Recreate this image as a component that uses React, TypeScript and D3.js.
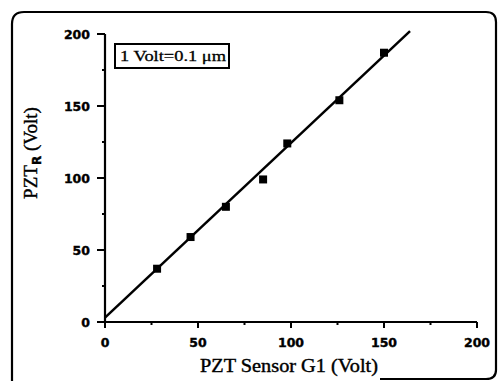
import React, { useRef, useEffect } from 'react';
import * as d3 from 'd3';

// measured points (PZT sensor G1 vs PZT_R), volts
const sensorG1 = [28, 46, 65, 85, 98, 126, 150];
const pztR = [37, 59, 80, 99, 124, 154, 187];

// linear fit line end points
const fitX = [0, 164];
const fitY = [3, 202];

const majorTicks = [0, 50, 100, 150, 200];
const minorTicks = [25, 75, 125, 175];

const W = 498;
const H = 381;

const App = () => {
  const svgRef = useRef<SVGSVGElement>(null);

  useEffect(() => {
    const svg = d3.select(svgRef.current);
    svg.selectAll('*').remove();

    const x = d3.scaleLinear().domain([0, 200]).range([105, 477]);
    const y = d3.scaleLinear().domain([0, 200]).range([322, 34]);

    // outer frame (scanned figure border)
    svg.append('path')
      .attr('d', 'M12,381 L12,24 Q12,12 24,12 L486,12 Q496,12 496,22 L496,370 Q496,379 486,379 L380,379')
      .attr('fill', 'none')
      .attr('stroke', '#000')
      .attr('stroke-width', 2.2);

    // axes lines
    svg.append('line')
      .attr('x1', x(0)).attr('x2', x(200))
      .attr('y1', y(0)).attr('y2', y(0))
      .attr('stroke', '#000').attr('stroke-width', 2.2);
    svg.append('line')
      .attr('x1', x(0)).attr('x2', x(0))
      .attr('y1', y(0)).attr('y2', y(200))
      .attr('stroke', '#000').attr('stroke-width', 2.2);

    // x ticks
    svg.selectAll('.xmaj').data(majorTicks).enter().append('line')
      .attr('x1', d => x(d)).attr('x2', d => x(d))
      .attr('y1', y(0)).attr('y2', y(0) + 6)
      .attr('stroke', '#000').attr('stroke-width', 2);
    svg.selectAll('.xmin').data(minorTicks).enter().append('line')
      .attr('x1', d => x(d)).attr('x2', d => x(d))
      .attr('y1', y(0)).attr('y2', y(0) + 3)
      .attr('stroke', '#000').attr('stroke-width', 2);

    // y ticks
    svg.selectAll('.ymaj').data(majorTicks).enter().append('line')
      .attr('x1', x(0) - 8).attr('x2', x(0))
      .attr('y1', d => y(d)).attr('y2', d => y(d))
      .attr('stroke', '#000').attr('stroke-width', 2);
    svg.selectAll('.ymin').data(minorTicks).enter().append('line')
      .attr('x1', x(0) - 3).attr('x2', x(0))
      .attr('y1', d => y(d)).attr('y2', d => y(d))
      .attr('stroke', '#000').attr('stroke-width', 2);

    // tick labels
    svg.selectAll('.xlab').data(majorTicks).enter().append('text')
      .attr('x', d => x(d))
      .attr('y', 347)
      .attr('text-anchor', 'middle')
      .style('font-family', 'DejaVu Sans')
      .style('font-weight', 'bold')
      .style('font-size', '12.5px')
      .style('stroke', '#000')
      .style('stroke-width', 0.4)
      .text(d => d);
    svg.selectAll('.ylab').data(majorTicks).enter().append('text')
      .attr('x', 90)
      .attr('y', d => y(d) + 4.5)
      .attr('text-anchor', 'end')
      .style('font-family', 'DejaVu Sans')
      .style('font-weight', 'bold')
      .style('font-size', '12.5px')
      .style('stroke', '#000')
      .style('stroke-width', 0.4)
      .text(d => d);

    // axis titles
    svg.append('text')
      .attr('x', 289)
      .attr('y', 372)
      .attr('text-anchor', 'middle')
      .attr('textLength', 178)
      .attr('lengthAdjust', 'spacingAndGlyphs')
      .style('font-family', 'Liberation Serif')
      .style('font-size', '19px')
      .style('stroke', '#000')
      .style('stroke-width', 0.4)
      .text('PZT Sensor G1 (Volt)');

    const yt = svg.append('text')
      .attr('transform', 'translate(37,153) rotate(-90)')
      .attr('text-anchor', 'middle')
      .style('font-family', 'Liberation Serif')
      .style('font-size', '19px')
      .style('stroke', '#000')
      .style('stroke-width', 0.4);
    yt.append('tspan').text('PZT');
    yt.append('tspan')
      .attr('dy', 4)
      .style('font-size', '12px')
      .style('font-family', 'DejaVu Sans')
      .style('font-weight', 'bold')
      .text('R');
    yt.append('tspan').attr('dy', -4).text(' (Volt)');

    // annotation box
    svg.append('rect')
      .attr('x', 115).attr('y', 44)
      .attr('width', 114).attr('height', 24)
      .attr('fill', 'none')
      .attr('stroke', '#000')
      .attr('stroke-width', 2);
    svg.append('text')
      .attr('x', 173).attr('y', 61)
      .attr('text-anchor', 'middle')
      .attr('textLength', 106)
      .attr('lengthAdjust', 'spacingAndGlyphs')
      .style('font-family', 'Liberation Serif')
      .style('font-size', '15px')
      .style('stroke', '#000')
      .style('stroke-width', 0.3)
      .text('1 Volt=0.1 \u03bcm');

    // fit line
    const line = d3.line<number>()
      .x((d, i) => x(fitX[i]))
      .y(d => y(d));
    svg.append('path')
      .datum(fitY)
      .attr('d', line)
      .attr('fill', 'none')
      .attr('stroke', '#000')
      .attr('stroke-width', 2.5);

    // data squares
    svg.selectAll('.pt').data(sensorG1).enter().append('rect')
      .attr('x', d => x(d) - 4)
      .attr('y', (d, i) => y(pztR[i]) - 4)
      .attr('width', 8)
      .attr('height', 8)
      .attr('fill', '#000');
  }, []);

  return (
    <svg
      ref={svgRef}
      width={W}
      height={H}
      style={{ position: 'absolute', left: 0, top: 0, background: '#fff' }}
    />
  );
};

export default App;
